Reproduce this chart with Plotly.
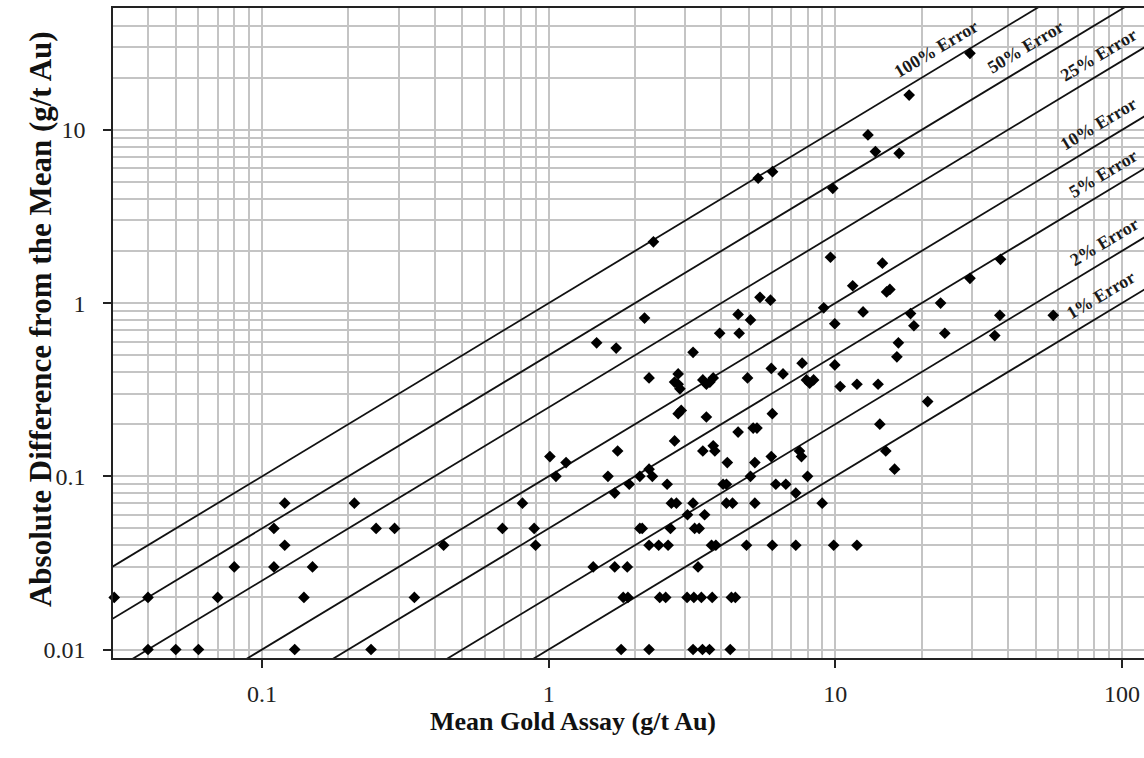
import math
import plotly.graph_objects as go

# Mean gold assay (g/t Au) and absolute difference from the mean (g/t Au)
mean_assay = [
    0.0305, 0.04, 0.04, 0.05, 0.06, 0.07, 0.08, 0.11, 0.12, 0.11, 0.12, 0.15, 0.14, 0.13,
    0.21, 0.25, 0.29, 0.24, 0.34, 0.43, 0.69, 0.89, 0.90, 0.81, 1.01, 1.15, 1.06, 1.43,
    1.61, 2.08, 2.24, 2.30, 1.91, 1.70, 2.59, 2.68, 2.79, 3.19, 3.05, 3.50, 4.06, 4.17,
    4.17, 4.38, 5.24, 5.06, 2.08, 2.12, 2.66, 3.23, 3.35, 2.24, 2.42, 2.61, 3.70, 3.83,
    4.90, 1.70, 1.88, 3.32, 1.82, 1.89, 2.44, 2.56, 3.04, 3.21, 3.41, 3.72, 4.34, 4.48,
    1.79, 2.24, 3.19, 3.44, 3.64, 4.30,
    2.16, 1.47, 1.72, 2.24, 2.83, 2.75, 2.83, 2.87, 2.83, 2.90, 3.19, 3.45, 3.55, 3.65,
    3.75, 3.55, 3.95, 4.58, 4.62, 5.06, 4.94, 2.75, 1.74, 3.45, 3.75, 3.80, 4.20, 4.58,
    5.17, 5.33, 5.24, 2.32, 5.38, 6.04, 5.46, 5.94,
    9.62, 14.6, 11.5, 15.1, 15.5, 9.11, 12.5, 18.3, 9.96, 18.8, 16.6, 16.4, 5.98, 6.57,
    7.66, 9.96, 7.93, 8.14, 8.40, 10.4, 11.9, 14.1, 21.0, 6.03, 14.3, 15.0, 7.50, 7.62,
    5.98, 16.1, 6.20, 6.72, 8.00, 7.28, 9.00, 6.03, 7.28, 9.87, 11.9,
    29.5, 18.1, 13.0, 13.8, 16.7, 9.80, 29.5, 37.7, 23.3, 37.5, 57.6, 24.1, 36.0,
]
abs_difference = [
    0.02, 0.02, 0.01, 0.01, 0.01, 0.02, 0.03, 0.05, 0.07, 0.03, 0.04, 0.03, 0.02, 0.01,
    0.07, 0.05, 0.05, 0.01, 0.02, 0.04, 0.05, 0.05, 0.04, 0.07, 0.13, 0.12, 0.10, 0.03,
    0.10, 0.10, 0.11, 0.10, 0.09, 0.08, 0.09, 0.07, 0.07, 0.07, 0.06, 0.06, 0.09, 0.09,
    0.07, 0.07, 0.07, 0.10, 0.05, 0.05, 0.05, 0.05, 0.05, 0.04, 0.04, 0.04, 0.04, 0.04,
    0.04, 0.03, 0.03, 0.03, 0.02, 0.02, 0.02, 0.02, 0.02, 0.02, 0.02, 0.02, 0.02, 0.02,
    0.01, 0.01, 0.01, 0.01, 0.01, 0.01,
    0.82, 0.59, 0.55, 0.37, 0.39, 0.35, 0.34, 0.32, 0.23, 0.24, 0.52, 0.36, 0.34, 0.35,
    0.37, 0.22, 0.67, 0.86, 0.67, 0.80, 0.37, 0.16, 0.14, 0.14, 0.15, 0.14, 0.12, 0.18,
    0.19, 0.19, 0.12, 2.26, 5.26, 5.74, 1.08, 1.04,
    1.84, 1.70, 1.26, 1.16, 1.20, 0.94, 0.89, 0.87, 0.76, 0.74, 0.59, 0.49, 0.42, 0.39,
    0.45, 0.44, 0.36, 0.345, 0.36, 0.33, 0.34, 0.34, 0.27, 0.23, 0.20, 0.14, 0.14, 0.13,
    0.13, 0.11, 0.09, 0.09, 0.10, 0.08, 0.07, 0.04, 0.04, 0.04, 0.04,
    27.7, 15.9, 9.36, 7.50, 7.33, 4.60, 1.39, 1.79, 1.00, 0.85, 0.85, 0.67, 0.65,
]

# Relative error reference lines: |difference| = fraction * mean
error_fractions = [1.0, 0.5, 0.25, 0.10, 0.05, 0.02, 0.01]
error_labels = ["100% Error", "50% Error", "25% Error", "10% Error", "5% Error", "2% Error", "1% Error"]
label_assay = [22.8, 46.8, 84.3, 84.0, 87.0, 88.0, 86.0]
line_span = [0.001, 1000.0]

SERIF = "Liberation Serif, Times New Roman, serif"
GRID = "#c4c4c4"

fig = go.Figure()

for frac in error_fractions:
    fig.add_trace(go.Scatter(
        x=line_span, y=[frac * v for v in line_span],
        mode="lines", line=dict(color="#111111", width=1.8),
        hoverinfo="skip", showlegend=False,
    ))

fig.add_trace(go.Scatter(
    x=mean_assay, y=abs_difference, mode="markers",
    marker=dict(symbol="diamond", size=9, color="#000000"),
    showlegend=False, cliponaxis=False,
))

# Labels sit just above their line, rotated to the line's on-screen slope
for frac, text, xa in zip(error_fractions, error_labels, label_assay):
    fig.add_annotation(
        x=math.log10(xa), y=math.log10(frac * xa),
        xref="x", yref="y", text=f"<b>{text}</b>", showarrow=False,
        textangle=-31, yshift=19, xshift=-2, xanchor="center", yanchor="middle",
        font=dict(family=SERIF, size=18, color="#1a1a1a"),
    )

fig.add_annotation(
    xref="paper", yref="paper", x=0.446, y=-0.097,
    text="<b>Mean Gold Assay (g/t Au)</b>", showarrow=False,
    xanchor="center", yanchor="middle",
    font=dict(family=SERIF, size=26, color="#111111"),
)
fig.add_annotation(
    xref="paper", yref="paper", x=-0.0708, y=0.5215,
    text="<b>Absolute Difference from the Mean (g/t Au)</b>", showarrow=False,
    textangle=-90, xanchor="center", yanchor="middle",
    font=dict(family=SERIF, size=31, color="#111111"),
)

axis_common = dict(
    type="log",
    showgrid=True, gridcolor=GRID, gridwidth=1.5,
    minor=dict(dtick="D1", showgrid=True, gridcolor=GRID, gridwidth=1.5, ticks=""),
    showline=True, linecolor="#222222", linewidth=1.5,
    ticks="outside", ticklen=8, tickwidth=1.5, tickcolor="#222222",
    tickfont=dict(family=SERIF, size=24, color="#222222"),
    zeroline=False,
)

fig.update_xaxes(
    **axis_common,
    range=[-1.520, 2.077],
    tickvals=[0.1, 1, 10, 100], ticktext=["0.1", "1", "10", "100"],
    mirror=True, ticklabelstandoff=5,
)
fig.update_yaxes(
    **axis_common,
    range=[-2.049, 1.704],
    tickvals=[0.01, 0.1, 1, 10], ticktext=["0.01", "0.1", "1", "10"],
    ticklabelstandoff=13,
)

fig.update_layout(
    width=1144, height=758,
    margin=dict(l=113, r=0, t=8, b=100),
    paper_bgcolor="white", plot_bgcolor="white",
    showlegend=False,
)

fig.write_html("out.html")
